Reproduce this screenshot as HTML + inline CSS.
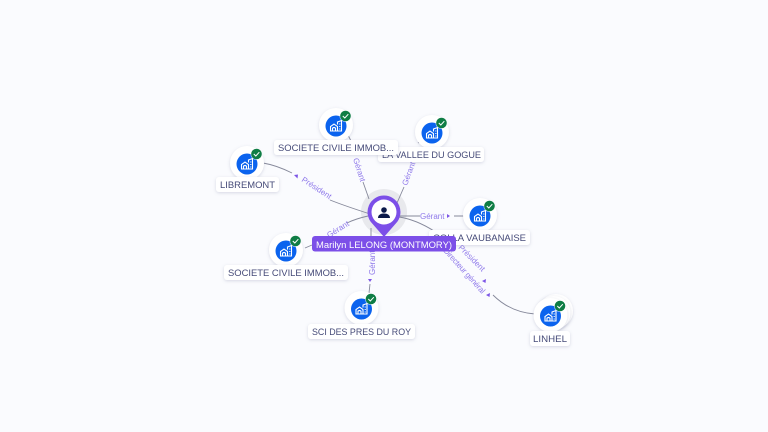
<!DOCTYPE html>
<html><head><meta charset="utf-8"><style>
html,body{margin:0;padding:0;background:#fafbfe;width:768px;height:432px;overflow:hidden}
svg{display:block;filter:blur(.25px)}
text{font-family:"Liberation Sans",sans-serif}
.lb{font-size:9.5px;fill:#454a78}
.ed{font-size:8px;fill:#8f79ea}
.l{fill:none;stroke:#85889a;stroke-width:.9}
.a{fill:#7c55e6}
</style></head><body>
<svg width="768" height="432" viewBox="0 0 768 432" xmlns="http://www.w3.org/2000/svg">
<defs>
<filter id="s" x="-30%" y="-30%" width="160%" height="170%"><feDropShadow dx="0" dy="1" stdDeviation="1.6" flood-color="#7a80a0" flood-opacity=".28"/></filter>
<g id="n">
<circle r="17" fill="#fff" filter="url(#s)"/>
<circle r="10.5" cy="1" fill="#0b63ee"/>
<path d="M-5.500 6V1.500L-2 -1L1.500 1.500V6ZM-3.500 6V3.200Q-2 1.800 -.5 3.200V6M1.500 -.5V-3L5.500 -4.500V6H1.500" fill="none" stroke="#fff" stroke-width="1.100"/>
<path d="M3 -1H4.500M3 1.500H4.500M3 4H4.500" stroke="#fff" stroke-width=".8"/>
<circle cx="9.500" cy="-9" r="6" fill="#fff" opacity=".6"/>
<circle cx="9.500" cy="-9" r="5.300" fill="#0f7d45"/>
<path d="M6.800 -9L8.800 -7L12.300 -10.800" fill="none" stroke="#fff" stroke-width="1"/>
</g>
</defs>
<circle cx="384" cy="212" r="23" fill="#e8e9ed"/>
<path class="l" d="M263 163C275 165 284 169 292 173"/>
<path class="l" d="M330 200C345 206 358 210 370 214"/>
<path class="l" d="M348 135L351 141M363 182L369 199"/>
<path class="l" d="M418 143L421 141M404 187L397 203"/>
<path class="l" d="M400 216H420M454 216H468" style="stroke-width:1.100"/>
<path class="l" d="M305 248L312 245M347 223C353 220 359 218 368 216"/>
<path class="l" d="M371 228L371 240M370 284L369 293"/>
<path class="l" d="M399 217C412 219 423 224 434 231"/>
<path class="l" d="M493 295C505 307 520 313 535 314"/>
<text class="ed" transform="translate(301,181) rotate(33)">Président</text>
<text class="ed" transform="translate(353,159) rotate(72)">Gérant</text>
<text class="ed" transform="translate(407,186) rotate(-70)">Gérant</text>
<text class="ed" x="420" y="219">Gérant</text>
<text class="ed" transform="translate(329,238) rotate(-32)">Gérant</text>
<text class="ed" transform="translate(375,275) rotate(-90)">Gérant</text>
<text class="ed" transform="translate(458,248) rotate(45)">Président</text>
<text class="ed" transform="translate(443,251) rotate(48)" textLength="58">Directeur général</text>
<path class="a" d="M294 175L298 174.500L297.500 178.500Z"/>
<path class="a" d="M447 214L450 216L447 218Z"/>
<path class="a" d="M368 279L372 279L370 282Z"/>
<path class="a" d="M482 281L486 279L485.500 283Z"/>
<path class="a" d="M486 295L490 293L489.500 297Z"/>
<path d="M384 195.500a16.500 16.500 0 0 1 12 27.800L384 237L372 223.300A16.500 16.500 0 0 1 384 195.500Z" fill="#7c4fe8"/>
<circle cx="384" cy="212" r="12.500" fill="#fff"/>
<circle cx="384" cy="210" r="2.800" fill="#0c1a4a"/>
<path d="M378 218c0-3 2.500-4.500 6-4.500s6 1.500 6 4.500Z" fill="#0c1a4a"/>
<use href="#n" x="247" y="163"/>
<rect x="216" y="177" width="63" height="15" rx="3" fill="#fff" filter="url(#s)"/>
<text class="lb" x="220" y="188" textLength="55" lengthAdjust="spacingAndGlyphs">LIBREMONT</text>
<use href="#n" x="336" y="125"/>
<use href="#n" x="432" y="132"/>
<rect x="378" y="147" width="106" height="15" rx="3" fill="#fff" filter="url(#s)"/>
<text class="lb" x="382" y="158" textLength="99" lengthAdjust="spacingAndGlyphs">LA VALLEE DU GOGUE</text>
<rect x="274" y="140" width="124" height="15" rx="3" fill="#fff" filter="url(#s)"/>
<text class="lb" x="278" y="151" textLength="116" lengthAdjust="spacingAndGlyphs">SOCIETE CIVILE IMMOB...</text>
<use href="#n" x="480" y="215"/>
<rect x="429" y="230" width="101" height="15" rx="3" fill="#fff" filter="url(#s)"/>
<text class="lb" x="433" y="241" textLength="93" lengthAdjust="spacingAndGlyphs">COLLA VAUBANAISE</text>
<rect x="312" y="236" width="144" height="15.500" rx="3" fill="#7c4fe8"/>
<text x="316" y="248" font-size="9.500" fill="#fff" textLength="136" lengthAdjust="spacingAndGlyphs">Marilyn LELONG (MONTMORY)</text>
<use href="#n" x="286" y="250"/>
<rect x="224" y="265" width="124" height="15" rx="3" fill="#fff" filter="url(#s)"/>
<text class="lb" x="228" y="276" textLength="116" lengthAdjust="spacingAndGlyphs">SOCIETE CIVILE IMMOB...</text>
<use href="#n" x="361.500" y="308"/>
<rect x="308" y="324" width="107" height="15" rx="3" fill="#fff" filter="url(#s)"/>
<text class="lb" x="312" y="335" textLength="99" lengthAdjust="spacingAndGlyphs">SCI DES PRES DU ROY</text>
<circle cx="556" cy="311" r="17" fill="#fff" filter="url(#s)"/>
<circle cx="553.500" cy="313" r="17" fill="#fff" filter="url(#s)"/>
<use href="#n" x="550.500" y="315"/>
<rect x="530" y="331" width="40" height="15" rx="3" fill="#fff" filter="url(#s)"/>
<text class="lb" x="533" y="342" textLength="34" lengthAdjust="spacingAndGlyphs">LINHEL</text>
</svg>
</body></html>
